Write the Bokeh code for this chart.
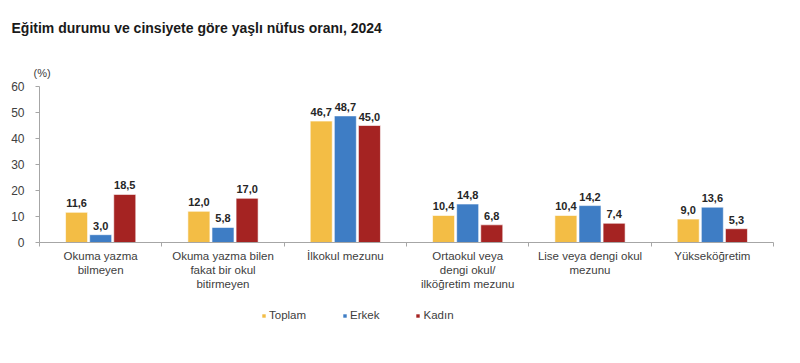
from bokeh.plotting import figure
from bokeh.models import (ColumnDataSource, FixedTicker, LinearAxis, Range1d,
                          LabelSet, Legend, LegendItem, Label)
from bokeh.core.properties import value
from bokeh.embed import file_html
from bokeh.resources import INLINE

categories = ["Okuma yazma\nbilmeyen",
              "Okuma yazma bilen\nfakat bir okul\nbitirmeyen",
              "İlkokul mezunu",
              "Ortaokul veya\ndengi okul/\nilköğretim mezunu",
              "Lise veya dengi okul\nmezunu",
              "Yükseköğretim"]
toplam = [11.6, 12.0, 46.7, 10.4, 10.4, 9.0]
erkek = [3.0, 5.8, 48.7, 14.8, 14.2, 13.6]
kadin = [18.5, 17.0, 45.0, 6.8, 7.4, 5.3]
series_names = ["Toplam", "Erkek", "Kadın"]
colors = ["#F3BD45", "#3E7DC5", "#A52322"]
y_ticks = [0, 10, 20, 30, 40, 50, 60]
title_text = "Eğitim durumu ve cinsiyete göre yaşlı nüfus oranı, 2024"
unit_text = "(%)"

FONT = "Liberation Sans"
W, H = 784, 347

# plot area spans the whole canvas; the axes are pinned at x=0 and y=0
n = len(categories)
px_per_cat = 734 / n
px_per_unit = 156 / 60
x_start = -39 / px_per_cat
x_end = n + 11 / px_per_cat
y_end = 60 + 86 / px_per_unit
y_start = -(H - 242) / px_per_unit

p = figure(width=W, height=H, output_backend="svg", toolbar_location=None,
           x_axis_type=None, y_axis_type=None,
           x_range=Range1d(x_start, x_end), y_range=Range1d(y_start, y_end),
           min_border_left=0, min_border_right=0, min_border_top=0,
           min_border_bottom=0)
p.outline_line_color = None
p.xgrid.grid_line_color = None
p.ygrid.grid_line_color = None
p.background_fill_color = "white"
p.border_fill_color = "white"

# y axis
yax = LinearAxis(ticker=FixedTicker(ticks=y_ticks), fixed_location=0, bounds=(0, 60))
yax.axis_line_color = "#A6A6A6"
yax.major_tick_line_color = "#A6A6A6"
yax.major_tick_out = 4
yax.major_tick_in = 0
yax.minor_tick_line_color = None
yax.major_label_text_font = FONT
yax.major_label_text_font_size = "12px"
yax.major_label_text_color = "#404040"
yax.major_label_standoff = 11
p.add_layout(yax, "left")

# x axis: category labels at centres, tick marks at the boundaries
centers = [i + 0.5 for i in range(n)]
xax = LinearAxis(ticker=FixedTicker(ticks=centers, minor_ticks=list(range(n + 1))),
                 fixed_location=0, bounds=(0, n),
                 major_label_overrides={c: lab for c, lab in zip(centers, categories)})
xax.axis_line_color = "#A6A6A6"
xax.major_tick_line_color = None
xax.major_tick_out = 0
xax.major_tick_in = 0
xax.minor_tick_line_color = "#A6A6A6"
xax.minor_tick_out = 4
xax.minor_tick_in = 0
xax.major_label_text_font = FONT
xax.major_label_text_font_size = "11.5px"
xax.major_label_text_color = "#404040"
xax.major_label_standoff = 3
p.add_layout(xax, "below")

bar_w = 0.18
offsets = [-0.197, 0.0, 0.197]
renderers = []
for vals, off, col in zip([toplam, erkek, kadin], offsets, colors):
    xs = [c + off for c in centers]
    src = ColumnDataSource(dict(x=xs, top=vals,
                                lbl=[f"{v:.1f}".replace(".", ",") for v in vals]))
    r = p.vbar(x="x", top="top", width=bar_w, bottom=0, source=src,
               fill_color=col, line_color="white", line_width=0.6)
    renderers.append(r)
    p.add_layout(LabelSet(x="x", y="top", text="lbl", source=src,
                          text_align="center", text_baseline="bottom",
                          y_offset=5, text_font=value(FONT),
                          text_font_size=value("11px"),
                          text_font_style=value("bold"), text_color=value("#262626")))

legend = Legend(items=[LegendItem(label=s, renderers=[r]) for s, r in zip(series_names, renderers)],
                orientation="horizontal", location=(261, 26),
                glyph_width=5, glyph_height=5, label_standoff=3, spacing=36,
                padding=0, margin=0, border_line_color=None,
                background_fill_alpha=0, label_text_font=FONT,
                label_text_font_size="11.5px", label_text_color="#404040",
                label_height=12)
p.add_layout(legend, "center")

p.add_layout(Label(x=0, y=60, x_offset=-6, y_offset=14, text=unit_text,
                   text_baseline="middle",
                   text_font=FONT, text_font_size="11px", text_color="#404040"))

p.add_layout(Label(x=0, y=60, x_offset=-28, y_offset=59, text=title_text,
                   text_baseline="middle", text_font=FONT, text_font_size="14px",
                   text_font_style="bold", text_color="#1a1a1a"))

open("out.html", "w").write(file_html(p, INLINE))
